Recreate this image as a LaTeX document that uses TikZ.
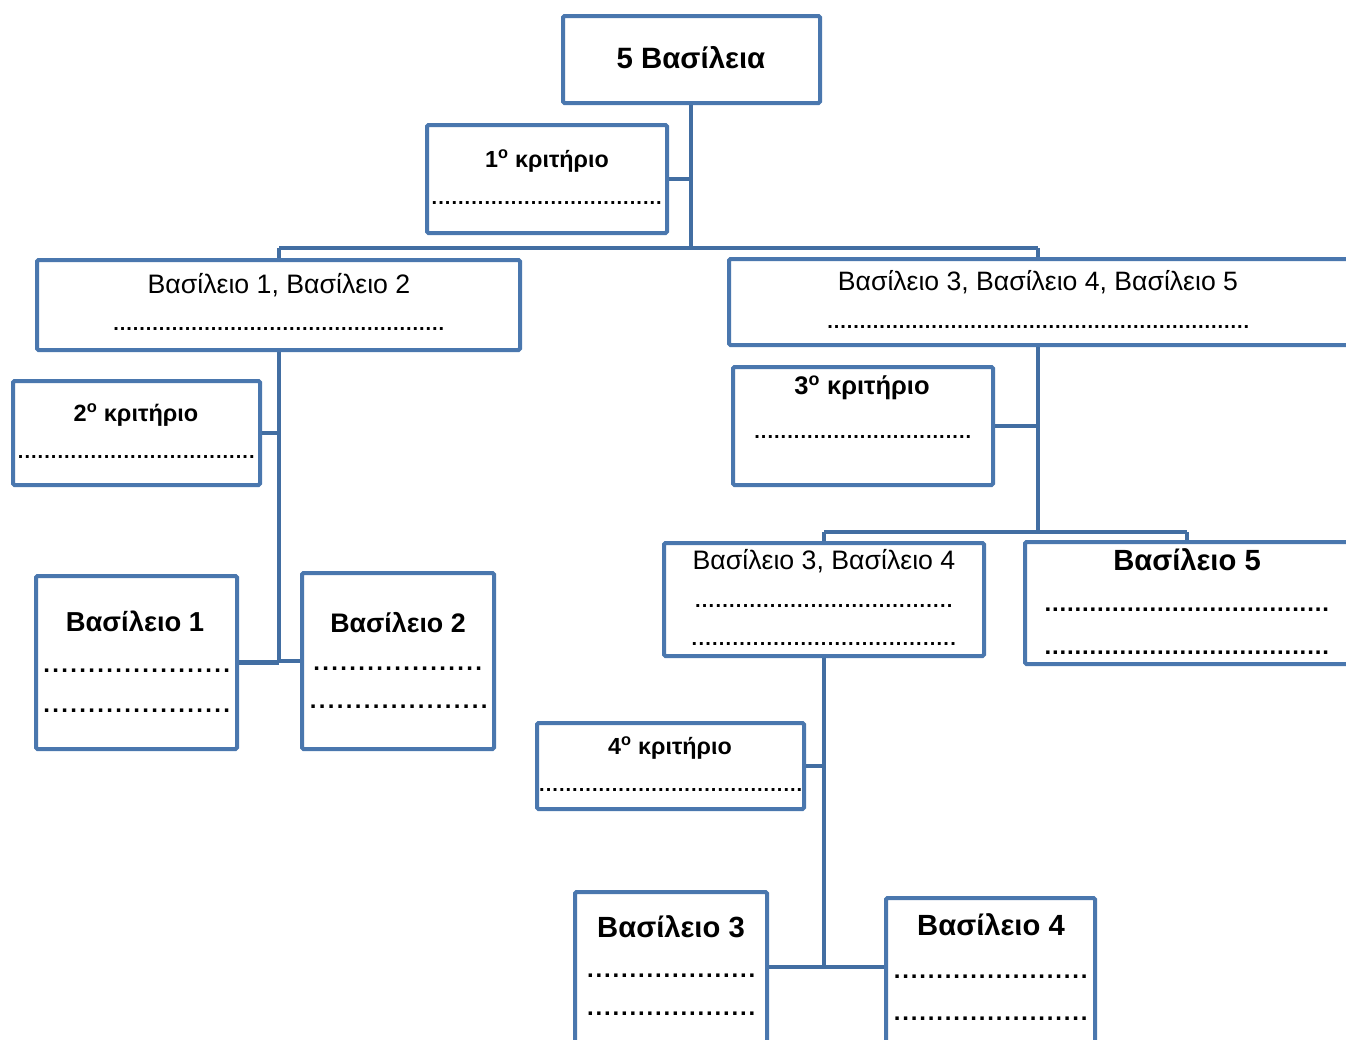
\documentclass[tikz,border=0pt]{standalone}
\usepackage{fontspec}
\setmainfont{Liberation Sans}
\definecolor{boxcol}{HTML}{4A77AE}
\definecolor{lincol}{HTML}{426EA2}
\newcommand\dotrow[2]{\hbox to #1pt{\cleaders\hbox to #2pt{\hss.\hss}\hfill}}
\newcommand\fs[1]{\fontsize{#1}{#1}\selectfont}
\tikzset{
  box/.style={draw=boxcol, line width=4pt, rounded corners=1.5pt, rectangle, inner sep=0pt, fill=white},
  conn/.style={draw=lincol, line width=4.5pt},
  lbl/.style={inner sep=0pt, anchor=center, text=black},
  dotl/.style={inner sep=0pt, anchor=base west, text=black, font=\bfseries\fs{20}},
  dotb/.style={inner sep=0pt, anchor=base west, text=black, font=\bfseries\fs{24}},
}
\begin{document}
\begin{tikzpicture}[x=1pt,y=-1pt]
\useasboundingbox (0,0) rectangle (1346,1039);
\clip (0,0) rectangle (1346,1039);
% junction coordinates
\coordinate (j1) at (691,248);
\coordinate (bl) at (279,248);
\coordinate (br) at (1038,248);
\coordinate (j2) at (279,662);
\coordinate (j3) at (1038,532);
\coordinate (bl3) at (824,532);
\coordinate (br3) at (1187,532);
\coordinate (j4) at (824,967);
% connectors (drawn first)
\draw[conn] (691,104) coordinate (t0) -- (j1);
\draw[conn] (bl) -- (br);
\draw[conn] (bl) -- (279,262) coordinate (lmtop);
\draw[conn] (br) -- (1038,261) coordinate (rmtop);
\draw[conn] (279,350) coordinate (lmbot) -- (j2);
\draw[conn] (1038,345) coordinate (rmbot) -- (j3);
\draw[conn] (bl3) -- (br3);
\draw[conn] (bl3) -- (824,545) coordinate (b34top);
\draw[conn] (br3) -- (1187,544) coordinate (b5top);
\draw[conn] (824,656) coordinate (b34bot) -- (j4);
% boxes
\node[box, minimum width=257, minimum height=87] (top) at (691.5,59.5) {};
\node[box, minimum width=240, minimum height=108] (k1) at (547,179) {};
\node[box, minimum width=483, minimum height=90] (lm) at (278.5,305) {};
\node[box, minimum width=631, minimum height=86] (rm) at (1044.5,302) {};
\node[box, minimum width=247, minimum height=104] (k2) at (136.5,433) {};
\node[box, minimum width=201, minimum height=173] (b1) at (136.5,662.5) {};
\node[box, minimum width=192, minimum height=176] (b2) at (398,661) {};
\node[box, minimum width=260, minimum height=118] (k3) at (863,426) {};
\node[box, minimum width=320, minimum height=113] (b34) at (824,599.5) {};
\node[box, minimum width=335, minimum height=122] (b5) at (1192.5,603) {};
\node[box, minimum width=267, minimum height=86] (k4) at (670.5,766) {};
\node[box, minimum width=192, minimum height=158] (b3) at (671,971) {};
\node[box, minimum width=209, minimum height=152] (b4) at (990.5,974) {};
% stubs
\draw[conn] (k1.east) -- (k1.east -| j1);
\draw[conn] (k2.east) -- (k2.east -| j2);
\draw[conn] (b1.east) -- (b1.east -| j2);
\draw[conn] (b2.west -| j2) -- (b2.west);
\draw[conn] (k3.east) -- (k3.east -| j3);
\draw[conn] (k4.east) -- (k4.east -| j4);
\draw[conn] (b3.east |- j4) -- (j4) -- (b4.west |- j4);
% texts
\node[lbl, font=\bfseries\fs{29.4}] (t-top) at (691,58) {5 Βασίλεια};
\node[lbl, font=\bfseries\fs{23.3}] (t-k1) at (547,161) {1\textsuperscript{ο} κριτήριο};
\node[lbl, font=\fs{26.7}] (t-lm) at (279,285) {Βασίλειο 1, Βασίλειο 2};
\node[lbl, font=\fs{26.6}] (t-rm) at (1038,282) {Βασίλειο 3, Βασίλειο 4, Βασίλειο 5};
\node[lbl, font=\bfseries\fs{23.5}] (t-k2) at (136,415) {2\textsuperscript{ο} κριτήριο};
\node[lbl, font=\bfseries\fs{27.4}] (t-b1) at (135,621) {Βασίλειο 1};
\node[lbl, font=\bfseries\fs{26.8}] (t-b2) at (398,623) {Βασίλειο 2};
\node[lbl, font=\bfseries\fs{25.5}] (t-k3) at (862,388) {3\textsuperscript{ο} κριτήριο};
\node[lbl, font=\fs{26.7}] (t-b34) at (824,561) {Βασίλειο 3, Βασίλειο 4};
\node[lbl, font=\bfseries\fs{29.2}] (t-b5) at (1187,560) {Βασίλειο 5};
\node[lbl, font=\bfseries\fs{23.3}] (t-k4) at (670,748) {4\textsuperscript{ο} κριτήριο};
\node[lbl, font=\bfseries\fs{29.2}] (t-b3) at (671,927) {Βασίλειο 3};
\node[lbl, font=\bfseries\fs{29.2}] (t-b4) at (991,925) {Βασίλειο 4};
% dotted lines
\node[dotl] (d-k1) at (428,204) {\dotrow{237}{6.6}};
\node[dotl] (d-lm) at (110,330) {\dotrow{337}{6.5}};
\node[dotl] (d-rm) at (825,328) {\dotrow{426}{6.5}};
\node[dotl] (d-k2) at (16,458) {\dotrow{240}{6.6}};
\node[dotl] (d-k3) at (753,438) {\dotrow{219}{6.6}};
\node[dotb] (d-b1a) at (42,672) {\dotrow{189}{9}};
\node[dotb] (d-b1b) at (42,712) {\dotrow{189}{9}};
\node[dotb] (d-b2a) at (311,670) {\dotrow{173}{9}};
\node[dotb] (d-b2b) at (308,708) {\dotrow{181}{9}};
\node[dotl] (d-b34a) at (692,607) {\dotrow{263}{6.8}};
\node[dotl] (d-b34b) at (689,645) {\dotrow{269}{6.8}};
\node[dotb] (d-b5a) at (1041,611) {\dotrow{291}{7.5}};
\node[dotb] (d-b5b) at (1041,654) {\dotrow{291}{7.5}};
\node[dotl] (d-k4) at (538,791) {\dotrow{265}{6.6}};
\node[dotb] (d-b3a) at (584,977) {\dotrow{174}{8.5}};
\node[dotb] (d-b3b) at (584,1015) {\dotrow{174}{8.5}};
\node[dotb] (d-b4a) at (889,978) {\dotrow{203}{8.5}};
\node[dotb] (d-b4b) at (889,1020) {\dotrow{203}{8.5}};
\end{tikzpicture}
\end{document}
